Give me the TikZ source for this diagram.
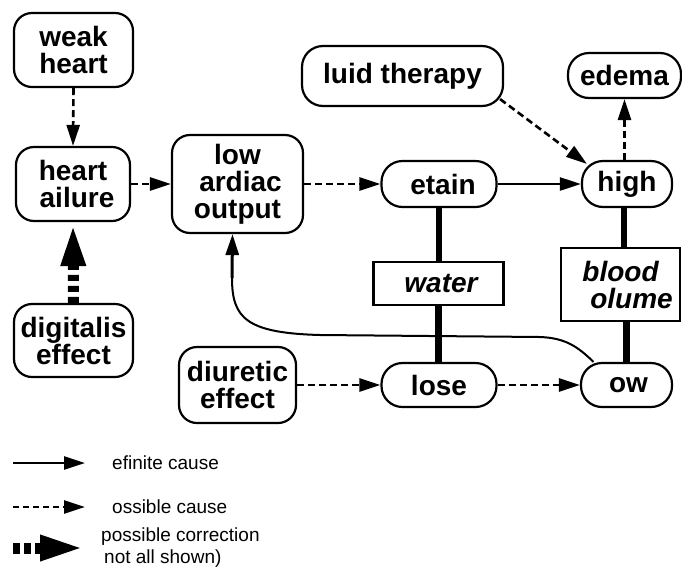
\documentclass[tikz,border=0pt]{standalone}
\usepackage{fontspec}
\setmainfont{Liberation Sans}
\usetikzlibrary{arrows.meta}
\begin{document}
\begin{tikzpicture}[x=1pt,y=-1pt,
 box/.style={draw, line width=2.2pt, rounded corners=18pt, align=center, inner sep=0pt, font=\fontsize{28}{27}\selectfont\bfseries},
 pill/.style={box, rounded corners=21pt},
 sqbox/.style={draw, line width=2.2pt, align=center, inner sep=0pt, font=\fontsize{28}{27}\selectfont\bfseries\itshape},
 definite/.style={-{Triangle[length=21pt,width=13pt]}, line width=2.4pt},
 possible/.style={-{Triangle[length=21pt,width=13pt]}, line width=2.6pt, dash pattern=on 7pt off 4pt},
 correction/.style={-{Triangle[length=44pt,width=22pt]}, line width=11pt, dash pattern=on 6pt off 5pt},
 link/.style={line width=6.5pt},
 legend/.style={anchor=west, inner sep=0pt, align=left, font=\fontsize{19}{22}\selectfont}]
\useasboundingbox (0,0) rectangle (682,571);

% nodes
\node[box, minimum width=119pt, minimum height=74pt] (weak) at (73.5,50) {weak\\heart};
\node[box, minimum width=114pt, minimum height=74pt] (hf) at (73,184) {heart\\\hspace*{8pt}ailure};
\node[box, minimum width=131pt, minimum height=98pt] (low) at (237.5,184) {low\\\hspace*{6pt}ardiac\\output};
\node[pill, minimum width=201pt, minimum height=60pt] (lt) at (402.5,76) {luid therapy};
\node[pill, minimum width=113pt, minimum height=45pt] (edema) at (624.5,75.5) {edema};
\node[pill, minimum width=115pt, minimum height=46pt] (retain) at (439,184) {\hspace*{8pt}etain};
\node[pill, minimum width=90pt, minimum height=46pt] (high) at (627,184) {high};
\node[sqbox, minimum width=130pt, minimum height=43pt] (water) at (438.5,283.5) {\hspace*{5pt}water};
\node[sqbox, minimum width=119pt, minimum height=73pt] (blood) at (620.5,284.5) {blood\\\hspace*{22pt}olume};
\node[pill, minimum width=115pt, minimum height=44pt] (lose) at (439,385) {lose};
\node[pill, minimum width=91pt, minimum height=44pt] (ow) at (626.5,385) {\hspace*{4pt}ow};
\node[box, minimum width=119pt, minimum height=73pt] (dig) at (73.5,340.5) {digitalis\\effect};
\node[box, minimum width=117pt, minimum height=76pt] (diu) at (237.5,385) {diuretic\\effect};

% connectors
\draw[possible] (weak.south) -- (hf.north);
\draw[possible] (hf.east) -- (low.west);
\draw[possible] (low.east) -- (retain.west);
\draw[definite] (retain.east) -- (high.west);
\draw[possible] ([shift={(-4pt,8pt)}]lt.south east) -- ([shift={(6pt,-4pt)}]high.north west);
\draw[possible] (edema.south |- high.north) -- (edema.south);
\draw[link] (retain.south) -- (retain.south |- water.north);
\draw[link] (water.south) -- (water.south |- lose.north);
\draw[link] ([xshift=-3pt]high.south) -- ([xshift=-3pt]high.south |- blood.north);
\draw[link] (ow.north |- blood.south) -- (ow.north);
\draw[possible] (diu.east) -- (lose.west);
\draw[possible] (lose.east) -- (ow.west);
\draw[correction] (dig.north) -- (hf.south);
\draw[line width=2pt] (ow.145) .. controls (578,347) and (566,338) .. (540,337) -- (320,335) .. controls (246,333) and (232,318) .. (232,278) coordinate (cv);
\draw[line width=3pt, -{Triangle[length=21pt,width=13pt]}] (cv) -- ([xshift=-5pt]low.south);

% legend
\coordinate (l1a) at (13,463); \coordinate (l1b) at (85,463);
\coordinate (l2a) at (13,507); \coordinate (l2b) at (85,507);
\coordinate (l3a) at (13,548); \coordinate (l3b) at (85,548);
\draw[definite] (l1a) -- (l1b);
\draw[possible, dash pattern=on 6pt off 4pt] (l2a) -- (l2b);
\draw[-{Triangle[length=45pt,width=23pt]}, line width=11pt, dash pattern=on 7pt off 4pt] (l3a) -- (l3b);
\node[legend] (t1) at (112,463) {efinite cause};
\node[legend] (t2) at (112,507) {ossible cause};
\node[legend] (t3) at (101,548) {possible correction\\\hspace*{3pt}not all shown)};
\end{tikzpicture}
\end{document}
